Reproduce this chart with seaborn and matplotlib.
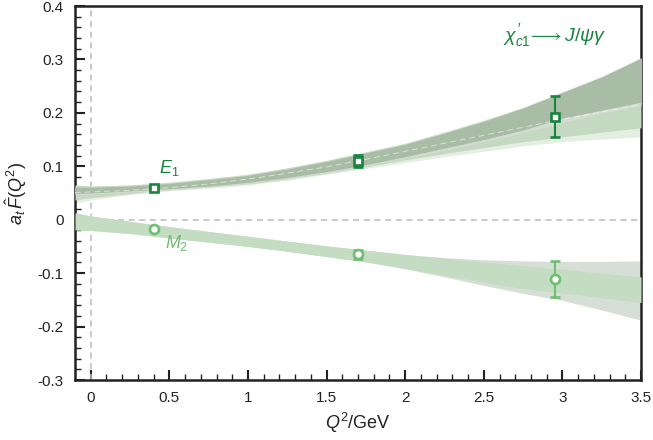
import numpy as np
import pandas as pd
import matplotlib
matplotlib.use("Agg")
import matplotlib.pyplot as plt
import seaborn as sns

# ---------------- data ----------------
q_grid = [-0.1, 0.0, 0.25, 0.5, 0.75, 1.0, 1.25, 1.5, 1.75, 2.0,
          2.25, 2.5, 2.75, 3.0, 3.25, 3.5]

# E1 bands
e1_outer_hi = [0.065, 0.063, 0.065, 0.070, 0.077, 0.085, 0.097, 0.111, 0.127, 0.143,
               0.164, 0.186, 0.210, 0.239, 0.268, 0.303]
e1_outer_lo = [0.031, 0.037, 0.047, 0.054, 0.059, 0.065, 0.074, 0.085, 0.096, 0.107,
               0.118, 0.128, 0.138, 0.146, 0.151, 0.155]
e1_mid_lo = [0.037, 0.041, 0.049, 0.056, 0.061, 0.067, 0.076, 0.087, 0.099, 0.112,
             0.124, 0.135, 0.146, 0.155, 0.164, 0.172]
e1_gray_lo = [0.047, 0.048, 0.052, 0.056, 0.061, 0.068, 0.077, 0.088, 0.101, 0.115,
              0.130, 0.146, 0.163, 0.182, 0.199, 0.214]
e1_dark_hi = [0.061, 0.061, 0.063, 0.068, 0.075, 0.083, 0.095, 0.109, 0.125, 0.141,
              0.162, 0.184, 0.209, 0.238, 0.267, 0.302]
e1_dark_lo = [0.049, 0.050, 0.054, 0.058, 0.063, 0.070, 0.079, 0.090, 0.103, 0.118,
              0.134, 0.150, 0.168, 0.190, 0.205, 0.220]
e1_central = [0.051, 0.052, 0.055, 0.060, 0.067, 0.076, 0.087, 0.099, 0.113, 0.128,
              0.143, 0.158, 0.173, 0.188, 0.202, 0.215]

# M2 bands
m2_green_hi = [0.013, 0.007, -0.003, -0.013, -0.022, -0.031, -0.040, -0.049, -0.057, -0.065,
               -0.072, -0.079, -0.086, -0.093, -0.100, -0.107]
m2_green_lo = [-0.019, -0.020, -0.026, -0.034, -0.042, -0.050, -0.059, -0.069, -0.079, -0.091,
               -0.104, -0.117, -0.129, -0.137, -0.146, -0.155]
m2_gray_hi = [0.013, 0.007, -0.003, -0.013, -0.022, -0.031, -0.040, -0.049, -0.057, -0.065,
              -0.071, -0.075, -0.077, -0.078, -0.078, -0.077]
m2_gray_lo = [-0.019, -0.020, -0.026, -0.034, -0.042, -0.050, -0.059, -0.069, -0.079, -0.092,
              -0.107, -0.123, -0.138, -0.151, -0.169, -0.188]

# data points
q_pts = [0.4, 1.7, 2.95]
e1_vals = [0.060, 0.110, 0.193]
e1_errs = [0.003, 0.012, 0.039]
m2_vals = [-0.018, -0.065, -0.111]
m2_errs = [0.003, 0.008, 0.034]

x_ticks = [0, 0.5, 1, 1.5, 2, 2.5, 3, 3.5]
x_tick_labels = ["0", "0.5", "1", "1.5", "2", "2.5", "3", "3.5"]
y_ticks = [-0.3, -0.2, -0.1, 0, 0.1, 0.2, 0.3, 0.4]
y_tick_labels = ["-0.3", "-0.2", "-0.1", "0", "0.1", "0.2", "0.3", "0.4"]

# ---------------- style ----------------
sns.set_theme(style="ticks")
plt.rcParams["font.family"] = ["Liberation Sans", "DejaVu Sans"]
plt.rcParams["mathtext.fontset"] = "custom"
plt.rcParams["mathtext.rm"] = "Liberation Sans"
plt.rcParams["mathtext.it"] = "Liberation Sans:italic"
plt.rcParams["mathtext.sf"] = "Liberation Sans"

dark_green = "#17843f"
light_green = "#6fbf72"

fig = plt.figure(figsize=(6.53, 4.40), dpi=100)
ax = fig.add_axes([75 / 653, 1 - 380 / 440, 566 / 653, 374 / 440])

q = np.array(q_grid)

# reference lines
ax.axhline(0, color="#bbbbbb", ls=(0, (4, 3)), lw=1.1, zorder=1)
ax.axvline(0, color="#bbbbbb", ls=(0, (4, 3)), lw=1.1, zorder=1)

# E1 bands
ax.fill_between(q, e1_outer_lo, e1_outer_hi, color="#e3f0e1", lw=0, zorder=2)
ax.fill_between(q, e1_mid_lo, e1_outer_hi, color="#c5d9c2", lw=0, zorder=3)
ax.fill_between(q, e1_gray_lo, e1_dark_hi, color="#d3dcd0", lw=0, zorder=4)
ax.fill_between(q, e1_dark_lo, e1_dark_hi, color="#a9bca5", lw=0, zorder=5)
cent = pd.DataFrame({"Q2": q_grid, "F": e1_central})
sns.lineplot(data=cent, x="Q2", y="F", ax=ax, color="white", lw=0.7,
             dashes=False, zorder=6, alpha=0.55)
ax.lines[-1].set_linestyle((0, (6, 4)))

# M2 bands
ax.fill_between(q, m2_gray_lo, m2_gray_hi, color="#d6dfd5", lw=0, zorder=2)
ax.fill_between(q, m2_green_lo, m2_green_hi, color="#c3dcc2", lw=0, zorder=3)

# data points
ax.errorbar(q_pts, e1_vals, yerr=e1_errs, fmt="s", ms=6, mfc="white",
            mec=dark_green, mew=1.9, ecolor=dark_green, elinewidth=1.5,
            capsize=3.5, capthick=1.5, zorder=8)
ax.errorbar(q_pts, m2_vals, yerr=m2_errs, fmt="o", ms=6.5, mfc="white",
            mec=light_green, mew=1.9, ecolor=light_green, elinewidth=1.5,
            capsize=3.5, capthick=1.5, zorder=8)

# annotations
ax.text(0.5, 0.097, r"$E_1$", color=dark_green, fontsize=13, ha="center", va="center")
ax.text(0.55, -0.043, r"$M_2$", color=light_green, fontsize=13, ha="center", va="center")
ax.text(2.95, 0.345, r"$\chi_{c1}^{\,\prime}\!\longrightarrow J/\psi\gamma$", color=dark_green,
        fontsize=14, ha="center", va="center")

# axes
ax.set_xlim(-0.1, 3.5)
ax.set_ylim(-0.3, 0.4)
ax.set_xticks(x_ticks)
ax.set_xticklabels(x_tick_labels)
ax.set_yticks(y_ticks)
ax.set_yticklabels(y_tick_labels)
ax.set_xticks(np.arange(0, 3.51, 0.1), minor=True)
ax.set_yticks(np.arange(-0.3, 0.401, 0.02), minor=True)
ax.tick_params(which="both", direction="in", top=False, right=False,
               colors="#222222", labelsize=11, width=1.5, pad=8)
ax.tick_params(which="major", length=7)
ax.tick_params(which="minor", length=4, width=1.0)
for s in ax.spines.values():
    s.set_linewidth(1.8)
    s.set_color("#222222")

ax.set_xlabel(r"$Q^2$/GeV", fontsize=13, color="#222222", labelpad=4)
ax.set_ylabel(r"$a_t\,\hat{F}(Q^2)$", fontsize=13, color="#222222", labelpad=6)

fig.savefig("out.png", dpi=100)
